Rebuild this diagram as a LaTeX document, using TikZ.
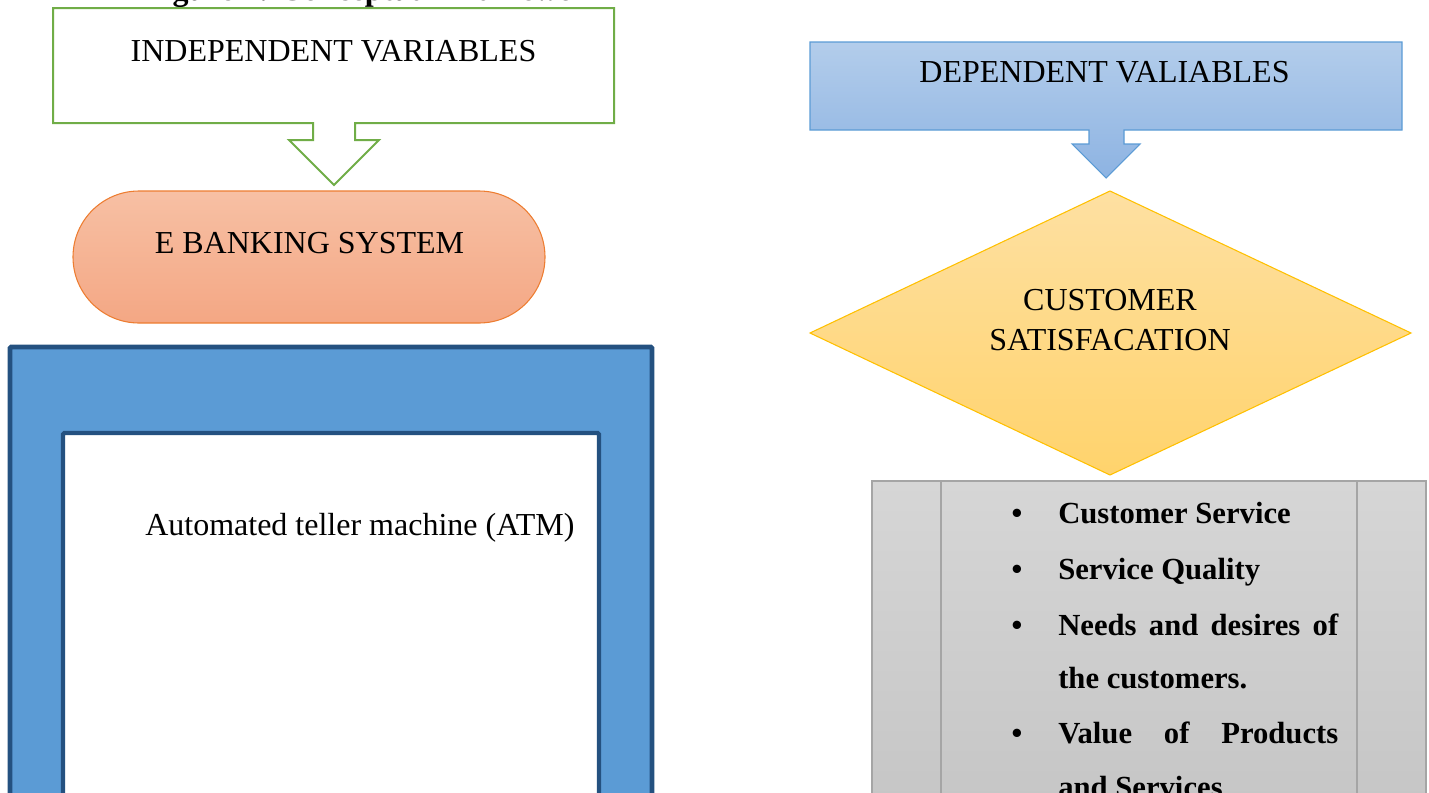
\documentclass[tikz,border=0pt]{standalone}
\usepackage{fontspec}
\setmainfont{Liberation Serif}
\definecolor{grnline}{HTML}{70AD47}
\definecolor{orline}{HTML}{ED7D31}
\definecolor{ortop}{HTML}{F7C0A4}
\definecolor{orbot}{HTML}{F4A784}
\definecolor{frfill}{HTML}{5B9BD5}
\definecolor{frline}{HTML}{245180}
\definecolor{bltop}{HTML}{B3CDEB}
\definecolor{blbot}{HTML}{8DB3E2}
\definecolor{blline}{HTML}{5B9BD5}
\definecolor{dmtop}{HTML}{FEE0A2}
\definecolor{dmbot}{HTML}{FFD36C}
\definecolor{dmline}{HTML}{FFC000}
\definecolor{grtop}{HTML}{D6D6D6}
\definecolor{grbot}{HTML}{C4C4C4}
\definecolor{grline}{HTML}{A5A5A5}
\begin{document}
\begin{tikzpicture}[x=0.75pt,y=-0.75pt,
  lbl/.style={font=\fontsize{24}{28}\selectfont, inner sep=0pt, anchor=base},
  titletext/.style={font=\fontsize{24}{28}\selectfont\bfseries, inner sep=0pt, anchor=base west},
  itemtext/.style={font=\fontsize{23}{27}\selectfont\bfseries, inner sep=0pt, anchor=base west},
  bul/.style={font=\fontsize{23}{27}\selectfont\bfseries, inner sep=0pt, anchor=base},
  greencallout/.style={draw=grnline, fill=white, line width=1.5pt},
  bluecallout/.style={draw=blline, top color=bltop, bottom color=blbot, line width=0.8pt},
  ebank/.style={draw=orline, top color=ortop, bottom color=orbot, line width=0.8pt},
  frameouter/.style={draw=frline, fill=frfill, line width=3.6pt, rounded corners=1pt},
  frameinner/.style={draw=frline, fill=white, line width=3.2pt, rounded corners=1pt},
  diam/.style={draw=dmline, top color=dmtop, bottom color=dmbot, line width=0.8pt},
  graybox/.style={draw=grline, top color=grtop, bottom color=grbot, line width=0.8pt},
  grayrule/.style={draw=grline, line width=0.8pt}
]
\useasboundingbox (0,0) rectangle (1429,793);
\clip (0,0) rectangle (1429,793);

% title (mostly cut off at the top)
\node[titletext] (title) at (144,0.5) {Figure 1: Conceptual Framework};

% independent variables callout
\path[greencallout] (53,8) -- (614,8) -- (614,123) -- (355,123) -- (355,140) -- (379,140)
  -- (334,185) -- (289,140) -- (313,140) -- (313,123) -- (53,123) -- cycle;
\node[lbl] (indep) at (333.5,61) {INDEPENDENT VARIABLES};

% e banking system
\path[ebank, rounded corners=49.5pt] (73,191) rectangle (545,323);
\node[lbl] (ebanking) at (309.5,253) {E BANKING SYSTEM};

% ATM frame
\path[frameouter] (10,347) rectangle (652,840);
\path[frameinner] (63,433) rectangle (599,840);
\node[lbl, anchor=base west] (atm) at (145,535) {Automated teller machine (ATM)};

% dependent variables callout
\path[bluecallout] (810,42) -- (1402,42) -- (1402,130) -- (1124,130) -- (1124,144) -- (1140,144)
  -- (1106,178) -- (1072,144) -- (1089,144) -- (1089,130) -- (810,130) -- cycle;
\node[lbl] (dep) at (1104.5,82) {DEPENDENT VALIABLES};

% customer satisfaction diamond
\path[diam] (1110,191) -- (1411,333) -- (1110,475) -- (810,333) -- cycle;
\node[lbl] (cs1) at (1110,310) {CUSTOMER};
\node[lbl] (cs2) at (1110,350) {SATISFACATION};

% gray list box
\path[graybox] (872,481) rectangle (1426,840);
\draw[grayrule] (941,481) -- (941,840);
\draw[grayrule] (1357,481) -- (1357,840);

\node[bul] (b1) at (1017,523) {•};
\node[itemtext] (i1) at (1058,523) {Customer Service};
\node[bul] (b2) at (1017,579) {•};
\node[itemtext] (i2) at (1058,579) {Service Quality};
\node[bul] (b3) at (1017,635) {•};
\node[itemtext] (i3) at (1058,635) {\makebox[210pt][s]{Needs and desires of}};
\node[itemtext] (i3b) at (1058,688) {the customers.};
\node[bul] (b4) at (1017,743) {•};
\node[itemtext] (i4) at (1058,743) {\makebox[210pt][s]{Value of Products}};
\node[itemtext] (i4b) at (1058,797) {and Services};
\end{tikzpicture}
\end{document}
